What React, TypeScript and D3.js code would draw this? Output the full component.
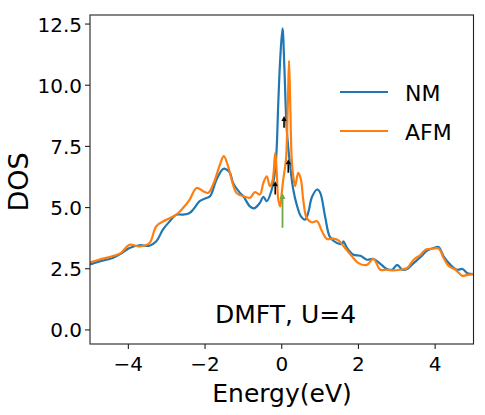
import React from "react";
import * as d3 from "d3";

const nmE = [-5.0,-4.75,-4.41,-4.2,-3.97,-3.71,-3.45,-3.27,-3.1,-2.92,-2.75,-2.57,-2.4,-2.31,-2.14,-1.98,-1.87,-1.7,-1.53,-1.44,-1.35,-1.27,-1.09,-1.0,-0.83,-0.72,-0.57,-0.48,-0.39,-0.26,-0.17,-0.13,-0.09,-0.04,0.02,0.07,0.13,0.22,0.3,0.39,0.5,0.61,0.7,0.78,0.92,1.0,1.13,1.26,1.44,1.57,1.61,1.7,1.87,2.05,2.22,2.39,2.57,2.74,2.88,3.01,3.14,3.27,3.44,3.62,3.79,3.96,4.09,4.22,4.4,4.57,4.71,4.84,5.0];
const nmDos = [2.68,2.8,2.94,3.11,3.35,3.46,3.44,3.62,4.1,4.44,4.71,4.71,4.78,4.92,5.26,5.38,5.46,6.15,6.58,6.56,6.42,6.01,5.6,5.46,5.05,4.97,5.19,5.44,5.26,5.74,6.56,7.51,9.3,11.07,12.32,10.66,8.2,6.69,5.74,5.12,4.64,4.51,4.85,5.4,5.74,5.62,4.64,3.79,3.55,3.52,3.62,3.35,3.07,3.03,2.87,2.9,2.7,2.49,2.46,2.66,2.46,2.49,2.73,2.98,3.24,3.35,3.39,3.01,2.66,2.46,2.49,2.32,2.28];

const afmE = [-5.0,-4.75,-4.49,-4.2,-3.97,-3.71,-3.45,-3.27,-3.01,-2.75,-2.57,-2.4,-2.22,-2.05,-1.92,-1.79,-1.61,-1.51,-1.4,-1.27,-1.18,-1.0,-0.83,-0.7,-0.57,-0.48,-0.39,-0.31,-0.24,-0.17,-0.13,-0.09,-0.04,0.0,0.04,0.11,0.16,0.19,0.22,0.26,0.3,0.35,0.43,0.5,0.56,0.65,0.78,0.92,1.05,1.18,1.35,1.48,1.65,1.83,2.0,2.22,2.39,2.57,2.74,2.92,3.09,3.27,3.44,3.62,3.75,3.92,4.09,4.22,4.36,4.53,4.71,4.84,5.0];
const afmDos = [2.76,2.88,2.98,3.14,3.48,3.41,3.55,4.24,4.5,4.71,4.99,5.33,5.8,5.67,5.6,5.94,6.76,7.1,6.69,5.94,5.6,5.46,5.4,5.63,5.53,6.01,6.28,5.88,6.1,7.24,6.42,5.33,5.05,5.6,6.15,6.97,9.3,11.0,9.3,6.97,6.28,5.88,6.42,6.15,5.33,4.58,4.4,4.44,4.03,3.72,3.73,3.66,3.35,3.01,2.73,2.66,2.9,2.46,2.46,2.43,2.46,2.53,2.87,3.07,3.28,3.32,3.33,2.94,2.6,2.46,2.21,2.25,2.28];

// black arrows: [energy, base dos, tip dos]
const arrowE = [-0.17, 0.06, 0.17];
const arrowBase = [5.53, 8.26, 6.42];
const arrowTip = [6.08, 8.74, 6.97];
// green arrow
const greenE = [0.02];
const greenBase = [4.18];
const greenTip = [5.6];

const xTicks = [-4, -2, 0, 2, 4];
const yTicks = [0, 2.5, 5, 7.5, 10, 12.5];
const seriesNames = ["NM", "AFM"];
const seriesColors = ["#1f77b4", "#ff7f0e"];
const annotation = "DMFT, U=4";

const W = 485, H = 415;
const L = 90, R = 473.5, T = 15, B = 344;
const FONT = "DejaVu Sans";

export default function App() {
  const x = d3.scaleLinear().domain([-5, 5]).range([L, R]);
  const y = d3.scaleLinear().domain([-0.575, 12.87]).range([B, T]);
  const line = d3.line<[number, number]>().x(d => x(d[0])).y(d => y(d[1])).curve(d3.curveCatmullRom.alpha(0.5));
  const nm = nmE.map((e, i) => [e, nmDos[i]] as [number, number]);
  const afm = afmE.map((e, i) => [e, afmDos[i]] as [number, number]);

  const arrow = (e: number, b: number, t: number, color: string, hw: number, hl: number, sw: number, key: string) => {
    const px = x(e), yb = y(b), yt = y(t);
    return (
      <g key={key}>
        <line x1={px} x2={px} y1={yb} y2={yt + hl} stroke={color} strokeWidth={sw} />
        <path d={`M${px},${yt} L${px - hw},${yt + hl} L${px + hw},${yt + hl} Z`} fill={color} />
      </g>
    );
  };

  return (
    <svg width={W} height={H} style={{ position: "absolute", left: 0, top: 0, background: "#fff" }}>
      <defs>
        <clipPath id="clip"><rect x={L} y={T} width={R - L} height={B - T} /></clipPath>
      </defs>
      <g clipPath="url(#clip)">
        <path d={line(nm) || ""} fill="none" stroke={seriesColors[0]} strokeWidth={2.2} strokeLinejoin="round" />
        <path d={line(afm) || ""} fill="none" stroke={seriesColors[1]} strokeWidth={2.2} strokeLinejoin="round" />
        {greenE.map((e, i) => arrow(e, greenBase[i], greenTip[i], "#6fa84a", 3, 6, 1.8, "g" + i))}
        {arrowE.map((e, i) => arrow(e, arrowBase[i], arrowTip[i], "#000", 2.6, 5, 1.6, "a" + i))}
      </g>
      <rect x={L} y={T} width={R - L} height={B - T} fill="none" stroke="#222" strokeWidth={1.1} />
      {xTicks.map(t => (
        <g key={"x" + t}>
          <line x1={x(t)} x2={x(t)} y1={B} y2={B + 5} stroke="#222" strokeWidth={1.1} />
          <text x={x(t)} y={371} textAnchor="middle" fontFamily={FONT} fontSize={20} fill="#000">
            {t < 0 ? "\u2212" + Math.abs(t) : String(t)}
          </text>
        </g>
      ))}
      {yTicks.map(t => (
        <g key={"y" + t}>
          <line x1={L - 5} x2={L} y1={y(t)} y2={y(t)} stroke="#222" strokeWidth={1.1} />
          <text x={82} y={y(t) + 7.5} textAnchor="end" fontFamily={FONT} fontSize={20} fill="#000">
            {t.toFixed(1)}
          </text>
        </g>
      ))}
      <text x={282} y={401.5} textAnchor="middle" fontFamily={FONT} fontSize={25} fill="#000">Energy(eV)</text>
      <text transform="translate(28,182) rotate(-90)" textAnchor="middle" fontFamily={FONT} fontSize={27} fill="#000">DOS</text>
      {seriesNames.map((n, i) => (
        <g key={n}>
          <line x1={340} x2={388} y1={92 + i * 39} y2={92 + i * 39} stroke={seriesColors[i]} strokeWidth={2.2} />
          <text x={405} y={100.5 + i * 39.5} fontFamily={FONT} fontSize={22} fill="#000">{n}</text>
        </g>
      ))}
      <text x={215} y={323} fontFamily={FONT} fontSize={25} fill="#000">{annotation}</text>
    </svg>
  );
}
